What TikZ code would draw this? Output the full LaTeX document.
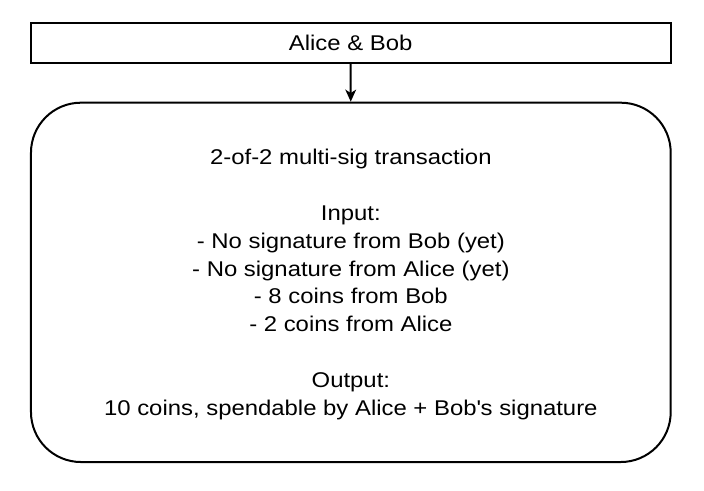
\documentclass[tikz,border=0pt]{standalone}
\usepackage{fontspec}
\setmainfont{Liberation Sans}[FakeStretch=1.12]
\usetikzlibrary{positioning, arrows.meta}

\begin{document}
\begin{tikzpicture}[x=0.75pt, y=-0.75pt, >={Stealth[length=9pt, width=8pt, inset=2.5pt]}, line width=1.5pt,
    partybox/.style={draw, rectangle, minimum width=480pt, minimum height=30pt, inner sep=0pt,
        font=\fontsize{16pt}{20.85pt}\selectfont},
    txbox/.style={draw, rectangle, rounded corners=37.5pt, minimum width=479.8pt, minimum height=269.5pt,
        inner sep=0pt, align=center, text depth=0pt, font=\fontsize{16pt}{20.85pt}\selectfont}]
    \useasboundingbox (0,0) rectangle (704,490);

    % Nodes
    % Parties
    \node[partybox] (parties) at (350.7,42.7) {Alice \& Bob};

    % Transaction
    \node[txbox] (tx) at (350.85,282.35) {2-of-2 multi-sig transaction\\~\\Input:\\- No signature from Bob (yet)\\- No signature from Alice (yet)\\- 8 coins from Bob\\- 2 coins from Alice\\~\\Output:\\10 coins, spendable by Alice + Bob\textquotesingle s signature};

    % Connectors
    \draw[->] (parties) -- (tx);

\end{tikzpicture}
\end{document}
